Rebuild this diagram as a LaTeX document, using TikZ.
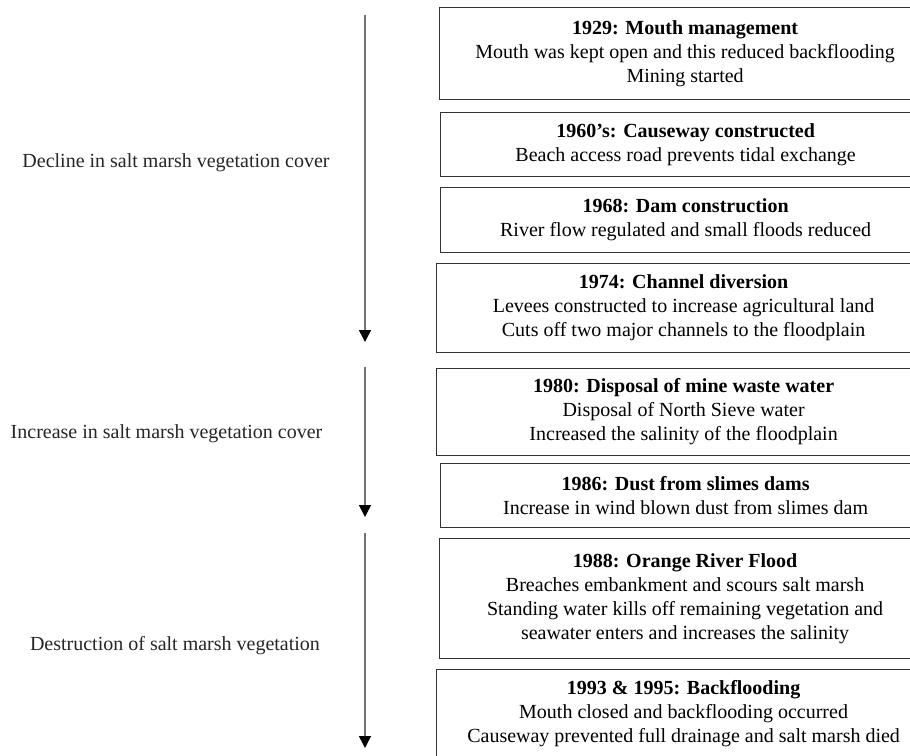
\documentclass[tikz,border=0pt]{standalone}
\usepackage{fontspec}
\setmainfont{Liberation Serif}
\usetikzlibrary{arrows.meta}
\tikzset{
  evbox/.style={draw=black!80, line width=1.2pt, anchor=north west, align=center, inner sep=0pt,
    font=\fontsize{20}{24}\selectfont},
  lbl/.style={anchor=base, inner sep=0pt, font=\fontsize{20}{24}\selectfont, text=black!85},
  arr/.style={draw=black!55, line width=1.5pt, -{Triangle[length=12pt,width=12pt,black]}}
}
\begin{document}
\begin{tikzpicture}[x=1pt,y=-1pt]
\useasboundingbox (0,0) rectangle (910,755);
\clip (0,0) rectangle (910,755);
\fill[white] (0,0) rectangle (910,755);
% event boxes
\node[evbox, minimum width=491pt, minimum height=92pt] (b1) at (439,7)
  {\textbf{1929: Mouth management}\\Mouth was kept open and this reduced backflooding\\Mining started};
\node[evbox, minimum width=490pt, minimum height=64pt] (b2) at (440,112)
  {\textbf{1960's: Causeway constructed}\\Beach access road prevents tidal exchange};
\node[evbox, minimum width=490pt, minimum height=65pt] (b3) at (440,187)
  {\textbf{1968: Dam construction}\\River flow regulated and small floods reduced};
\node[evbox, minimum width=494pt, minimum height=89pt] (b4) at (436,263)
  {\textbf{1974: Channel diversion}\\Levees constructed to increase agricultural land\\Cuts off two major channels to the floodplain};
\node[evbox, minimum width=494pt, minimum height=87pt] (b5) at (436,368)
  {\textbf{1980: Disposal of mine waste water}\\Disposal of North Sieve water\\Increased the salinity of the floodplain};
\node[evbox, minimum width=490pt, minimum height=64pt] (b6) at (440,463)
  {\textbf{1986: Dust from slimes dams}\\Increase in wind blown dust from slimes dam};
\node[evbox, minimum width=491pt, minimum height=120pt] (b7) at (439,538)
  {\textbf{1988: Orange River Flood}\\Breaches embankment and scours salt marsh\\Standing water kills off remaining vegetation and\\seawater enters and increases the salinity};
\node[evbox, minimum width=494pt, minimum height=88pt] (b8) at (436,669)
  {\textbf{1993 \& 1995: Backflooding}\\Mouth closed and backflooding occurred\\Causeway prevented full drainage and salt marsh died};
% phase labels
\node[lbl] (l1) at (176,167) {Decline in salt marsh vegetation cover};
\node[lbl] (l2) at (166.5,438) {Increase in salt marsh vegetation cover};
\node[lbl] (l3) at (175,650) {Destruction of salt marsh vegetation};
% arrows
\coordinate (a1s) at (365,15);  \coordinate (a1e) at (365,342);
\coordinate (a2s) at (365,367); \coordinate (a2e) at (365,517);
\coordinate (a3s) at (365,533); \coordinate (a3e) at (365,748);
\draw[arr] (a1s) -- (a1e);
\draw[arr] (a2s) -- (a2e);
\draw[arr] (a3s) -- (a3e);
\end{tikzpicture}
\end{document}
